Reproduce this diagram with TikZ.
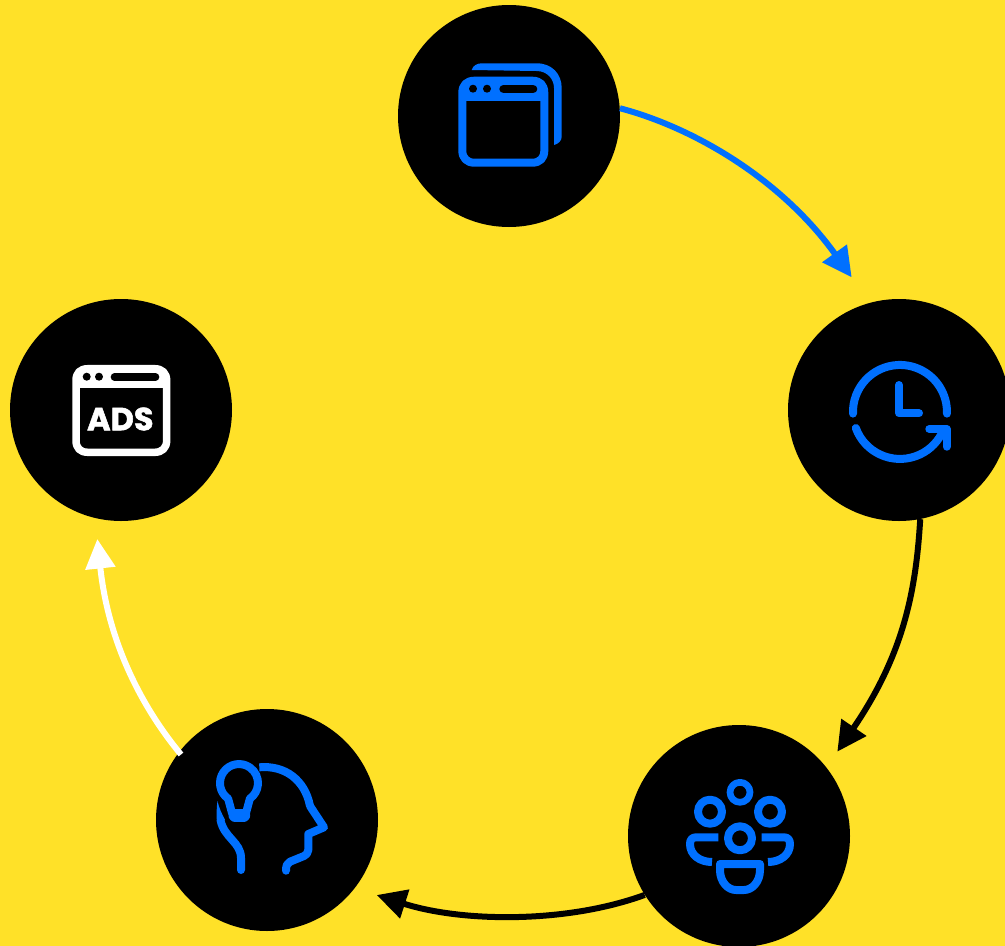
\documentclass[tikz,border=0pt]{standalone}
\usepackage{fontspec}
\setmainfont{Poppins}
\newfontfamily\adsfont{Poppins}[UprightFont=* Bold,FakeBold=1.6]
\usetikzlibrary{arrows.meta}
\definecolor{bgyellow}{RGB}{255,225,40}
\definecolor{iconblue}{RGB}{0,112,255}
\tikzset{
  hub/.style={circle,fill=black,inner sep=0pt,minimum size=222pt},
  link/.style={line width=6pt},
  headtip/.style={-{Triangle[length=29.5pt,width=29pt]}},
  ico/.style={draw=iconblue,line width=8pt,line cap=round,line join=round},
  icofill/.style={fill=iconblue,draw=none},
  adsline/.style={draw=white,line width=7.5pt,line cap=round,line join=round}
}
\begin{document}
\begin{tikzpicture}[x=1pt,y=-1pt]
\useasboundingbox (0,0) rectangle (1005,946);
\clip (0,0) rectangle (1005,946);
\fill[bgyellow] (0,0) rectangle (1005,946);
\node[hub] (n1) at (509,116) {};
\node[hub] (n2) at (899,410) {};
\node[hub] (n3) at (739,836) {};
\node[hub] (n4) at (267,820) {};
\node[hub] (n5) at (121,410) {};
\coordinate (t1) at (851.7,277.3);
\coordinate (t2) at (837.3,751.7);
\coordinate (t3) at (376.7,895);
\coordinate (t4) at (97.3,539);
\coordinate (s4) at (181,754.5);
\draw[link,headtip,draw=iconblue] (n1.4) .. controls (695,128) and (782,180) .. (t1);
\draw[link,headtip,draw=black] (n2.-79) .. controls (916,590) and (904,654) .. (t2);
\draw[link,headtip,draw=black] (n3.-148) .. controls (565,924) and (461,922) .. (t3);
\draw[link,headtip,draw=white] (s4) .. controls (140,705) and (108,640) .. (t4);
% icon 1
\fill[icofill] (471.7,70) .. controls (473,65) and (478,63.3) .. (481.7,63.3) -- (536.7,63.3)
  .. controls (552,63.3) and (561.7,74) .. (561.7,88) -- (561.7,136.7)
  .. controls (561.7,141) and (558,144) .. (554,145) -- (554,88)
  .. controls (554,79) and (547,71) .. (536.7,71) -- cycle;
\draw[ico] (462.3,92.7) .. controls (462.3,85) and (467,80.7) .. (474.3,80.7) -- (532.3,80.7)
  .. controls (540,80.7) and (544.3,85) .. (544.3,92.7) -- (544.3,150.7)
  .. controls (544.3,158) and (540,162.7) .. (532.3,162.7) -- (474.3,162.7)
  .. controls (467,162.7) and (462.3,158) .. (462.3,150.7) -- cycle;
\fill[icofill] (462.3,84) rectangle (544.3,101.3);
\fill[black] (473,88.7) circle[radius=4pt] (487,88.7) circle[radius=4pt];
\draw[black,line width=8.6pt,line cap=round] (503.6,89) -- (533,89);
% icon 2
\draw[ico] (853,413.6) arc[start angle=182,end angle=-2,radius=47pt];
\draw[ico] (855.8,428) arc[start angle=200,end angle=332,radius=47pt];
\draw[ico] (929.3,429) -- (946.7,429) -- (946.7,446.7);
\draw[ico] (899,385) -- (899,413.3) -- (919,413.3);
% icon 3
\draw[ico,line width=6.7pt] (740,792.3) circle[radius=10pt];
\draw[ico] (710,811.7) circle[radius=12pt];
\draw[ico] (770,811.7) circle[radius=12pt];
\draw[ico] (740,838.3) circle[radius=12pt];
\draw[ico,line cap=butt] (718.3,837.3) -- (696,837.3) .. controls (692,837.3) and (690,840) .. (690,844) .. controls (690,855) and (700,862) .. (712,862);
\draw[ico,line cap=butt] (761.7,837.3) -- (784,837.3) .. controls (788,837.3) and (790,840) .. (790,844) .. controls (790,855) and (780,862) .. (768,862);
\draw[ico] (720,864) -- (760,864) -- (760,870) .. controls (760,882) and (752,890) .. (744,890) -- (736,890) .. controls (728,890) and (720,882) .. (720,870) -- cycle;
% icon 4
\draw[ico] (228.1,798.6) arc[start angle=235,end angle=-55,radius=19pt] -- (246,813) (228.1,798.6) -- (232,813);
\draw[ico,line width=13pt] (235,815) -- (243.7,815);
\draw[ico,line cap=butt] (259.3,767.3) .. controls (285,765) and (305,780) .. (310,806);
\draw[ico] (310,806) -- (324,827.3) -- (308.3,834) -- (308.3,850) .. controls (308.3,853) and (306,855) .. (304,856) -- (290,861.7) .. controls (287,863) and (286,866) .. (286,870.7);
\fill[icofill] (217.5,801) .. controls (216.5,808) and (216.5,814) .. (216.8,820) -- (225,820) .. controls (222,814) and (219,808) .. cycle;
\draw[ico] (220.5,820) .. controls (224,838) and (241,842) .. (241,858) -- (241,870);
% icon 5
\draw[adsline] (76,380.7) .. controls (76,373) and (80,368.7) .. (88,368.7) -- (154.7,368.7)
  .. controls (162,368.7) and (166.7,373) .. (166.7,380.7) -- (166.7,440.3)
  .. controls (166.7,448) and (162,452.3) .. (154.7,452.3) -- (88,452.3)
  .. controls (80,452.3) and (76,448) .. (76,440.3) -- cycle;
\fill[white] (76,372) rectangle (166.7,388.3);
\fill[black] (86.7,376.7) circle[radius=4pt] (99,376.7) circle[radius=4pt];
\draw[black,line width=7.4pt,line cap=round] (114.4,377) -- (155.6,377);
\node[text=white,inner sep=0pt,font=\adsfont\fontsize{32}{32}\selectfont] (ads) at (120.3,419) {ADS};
\end{tikzpicture}
\end{document}
